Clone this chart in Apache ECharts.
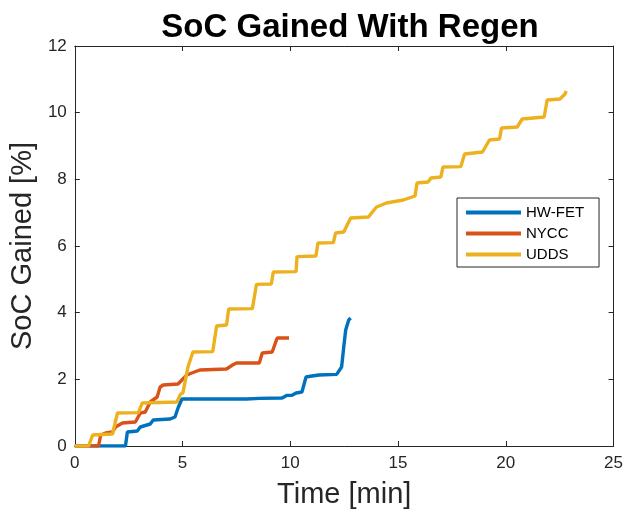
<!DOCTYPE html>
<html>
<head>
<meta charset="utf-8">
<script src="https://cdn.jsdelivr.net/npm/echarts@6/dist/echarts.min.js"></script>
<style>
  html, body { margin: 0; padding: 0; background: #fff; }
  #chart { width: 626px; height: 515px; }
</style>
</head>
<body>
<div id="chart"></div>
<script>
// values: time in minutes, SoC gained in %
const hwfetTime = [0, 2.35, 2.44, 2.90, 3.04, 3.13, 3.50, 3.64, 4.42, 4.65, 4.79, 4.97, 7.97, 8.56, 9.62, 9.85, 10.08, 10.27, 10.54, 10.73, 11.0, 11.33, 12.15, 12.38, 12.48, 12.57, 12.71, 12.80];
const hwfetSoc = [0, 0, 0.42, 0.45, 0.57, 0.63, 0.66, 0.78, 0.81, 0.87, 1.14, 1.41, 1.41, 1.43, 1.44, 1.52, 1.52, 1.59, 1.62, 2.07, 2.10, 2.13, 2.15, 2.37, 2.97, 3.48, 3.78, 3.84];

const nyccTime = [0, 1.10, 1.20, 1.43, 1.75, 1.89, 2.21, 2.81, 3.04, 3.27, 3.50, 3.82, 3.96, 4.10, 4.79, 4.97, 5.20, 5.43, 5.80, 7.04, 7.32, 7.50, 8.56, 8.70, 9.16, 9.39, 9.94];
const nyccSoc = [0, 0, 0.33, 0.39, 0.42, 0.57, 0.69, 0.72, 0.99, 1.02, 1.32, 1.47, 1.77, 1.83, 1.86, 1.98, 2.13, 2.19, 2.28, 2.31, 2.43, 2.49, 2.49, 2.79, 2.82, 3.24, 3.24];

const uddsTime = [0, 0.64, 0.83, 1.75, 1.98, 2.95, 3.13, 4.74, 4.90, 5.02, 5.25, 5.48, 6.40, 6.58, 7.04, 7.14, 8.24, 8.43, 9.12, 9.21, 10.27, 10.31, 11.19, 11.28, 12.0, 12.10, 12.48, 12.80, 13.63, 13.77, 14.0, 14.46, 15.24, 15.79, 15.88, 16.39, 16.53, 16.99, 17.08, 17.91, 18.09, 18.92, 19.24, 19.71, 19.80, 20.53, 20.76, 21.78, 21.92, 22.51, 22.74, 22.8];
const uddsSoc = [0, 0, 0.33, 0.36, 0.99, 1.0, 1.29, 1.32, 1.55, 1.60, 2.37, 2.82, 2.83, 3.60, 3.63, 4.11, 4.12, 4.85, 4.86, 5.22, 5.23, 5.68, 5.70, 6.09, 6.10, 6.39, 6.42, 6.84, 6.87, 6.99, 7.17, 7.29, 7.38, 7.50, 7.89, 7.92, 8.04, 8.07, 8.37, 8.38, 8.76, 8.82, 9.18, 9.21, 9.54, 9.57, 9.81, 9.87, 10.38, 10.41, 10.55, 10.65];

const xTicks = [0, 5, 10, 15, 20, 25];
const yTicks = [0, 2, 4, 6, 8, 10, 12];

const pairs = (t, v) => t.map((x, i) => [x, v[i]]);

const axisColor = "#262626";
const font = "Liberation Sans, Arial, Helvetica, sans-serif";

const chart = echarts.init(document.getElementById("chart"));

const baseAxis = {
    type: "value",
    axisLine: { show: true, onZero: false, lineStyle: { color: axisColor, width: 1 } },
    axisTick: { show: true, inside: true, length: 5, lineStyle: { color: axisColor } },
    splitLine: { show: false },
};

chart.setOption({
    animation: false,
    backgroundColor: "#fff",
    title: {
        text: "SoC Gained With Regen",
        left: 345,
        top: 6,
        textAlign: "center",
        textStyle: { fontFamily: font, fontSize: 33, fontWeight: "bold", color: "#000" },
    },
    grid: { left: 74, right: 9, top: 46, bottom: 69 },
    legend: {
        orient: "vertical",
        left: 457,
        top: 198,
        padding: [7, 15, 5, 9],
        itemGap: 6,
        itemWidth: 55,
        itemHeight: 4,
        icon: "rect",
        borderColor: axisColor,
        borderWidth: 1,
        backgroundColor: "#fff",
        textStyle: { fontFamily: font, fontSize: 15, color: "#000" },
        data: ["HW-FET", "NYCC", "UDDS"],
    },
    xAxis: [
        {
            ...baseAxis,
            position: "bottom",
            min: 0,
            max: 25,
            interval: 5,
            name: "Time [min]",
            nameLocation: "middle",
            nameGap: 34,
            nameTextStyle: { fontFamily: font, fontSize: 29, color: axisColor },
            axisLabel: {
                fontFamily: font,
                fontSize: 17,
                color: axisColor,
                margin: 9,
                formatter: (v) => (xTicks.includes(v) ? String(v) : ""),
            },
        },
        {
            ...baseAxis,
            position: "top",
            min: 0,
            max: 25,
            interval: 5,
            axisLabel: { show: false },
        },
    ],
    yAxis: [
        {
            ...baseAxis,
            position: "left",
            min: 0,
            max: 12,
            interval: 2,
            name: "SoC Gained [%]",
            nameLocation: "middle",
            nameGap: 32,
            nameTextStyle: { fontFamily: font, fontSize: 29, color: axisColor },
            axisLabel: {
                fontFamily: font,
                fontSize: 17,
                color: axisColor,
                margin: 8,
                formatter: (v) => (yTicks.includes(v) ? String(v) : ""),
            },
        },
        {
            ...baseAxis,
            position: "right",
            min: 0,
            max: 12,
            interval: 2,
            axisLabel: { show: false },
        },
    ],
    series: [
        {
            name: "HW-FET",
            type: "line",
            data: pairs(hwfetTime, hwfetSoc),
            symbol: "none",
            color: "#0072BD",
            lineStyle: { width: 3.4, color: "#0072BD" },
            z: 3,
        },
        {
            name: "NYCC",
            type: "line",
            data: pairs(nyccTime, nyccSoc),
            symbol: "none",
            color: "#D95319",
            lineStyle: { width: 3.4, color: "#D95319" },
            z: 4,
        },
        {
            name: "UDDS",
            type: "line",
            data: pairs(uddsTime, uddsSoc),
            symbol: "none",
            color: "#EDB120",
            lineStyle: { width: 3.4, color: "#EDB120" },
            z: 5,
        },
    ],
});
</script>
</body>
</html>
